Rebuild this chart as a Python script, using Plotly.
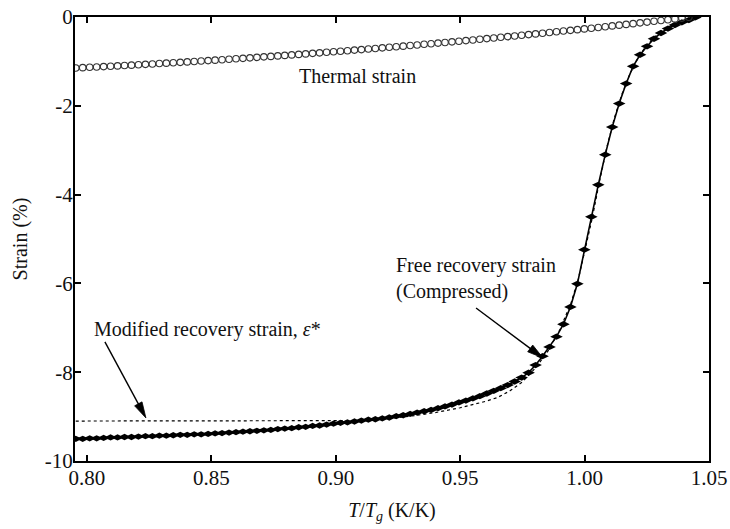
import math
import plotly.graph_objects as go

# Reduced temperature T/Tg sampled for the thermal-strain and recovery runs
ratio = [
    0.7955, 0.7983, 0.8011, 0.8039, 0.8067, 0.8095, 0.8123, 0.8151, 0.8179, 0.8207,
    0.8235, 0.8263, 0.8291, 0.8319, 0.8347, 0.8375, 0.8403, 0.8431, 0.8459, 0.8487,
    0.8515, 0.8543, 0.8571, 0.8599, 0.8627, 0.8655, 0.8683, 0.8711, 0.8739, 0.8767,
    0.8795, 0.8823, 0.8851, 0.8879, 0.8907, 0.8935, 0.8963, 0.8991, 0.9019, 0.9047,
    0.9075, 0.9103, 0.9131, 0.9159, 0.9187, 0.9215, 0.9243, 0.9271, 0.9299, 0.9327,
    0.9355, 0.9383, 0.9411, 0.9439, 0.9467, 0.9495, 0.9523, 0.9551, 0.9579, 0.9607,
    0.9635, 0.9663, 0.9691, 0.9719, 0.9747, 0.9775, 0.9803, 0.9831, 0.9859, 0.9887,
    0.9915, 0.9943, 0.9971, 0.9999, 1.0027, 1.0055, 1.0083, 1.0111, 1.0139, 1.0167,
    1.0195, 1.0223, 1.0251, 1.0279, 1.0307, 1.0335, 1.0363, 1.0391, 1.0419,
]

# Thermal strain (%)
thermal = [
    -1.149, -1.141, -1.133, -1.125, -1.117, -1.109, -1.101, -1.092, -1.084, -1.075,
    -1.066, -1.057, -1.048, -1.039, -1.030, -1.021, -1.011, -1.001, -0.992, -0.982,
    -0.972, -0.962, -0.951, -0.941, -0.931, -0.920, -0.909, -0.898, -0.887, -0.876,
    -0.865, -0.854, -0.842, -0.831, -0.819, -0.807, -0.795, -0.783, -0.771, -0.759,
    -0.746, -0.734, -0.721, -0.708, -0.695, -0.682, -0.669, -0.656, -0.643, -0.629,
    -0.615, -0.602, -0.588, -0.574, -0.560, -0.545, -0.531, -0.517, -0.502, -0.487,
    -0.472, -0.457, -0.442, -0.427, -0.412, -0.396, -0.381, -0.365, -0.349, -0.333,
    -0.317, -0.301, -0.285, -0.268, -0.252, -0.235, -0.218, -0.201, -0.184, -0.167,
    -0.150, -0.132, -0.115, -0.097, -0.079, -0.061, -0.043, -0.025, -0.007,
]

# Free recovery strain of the compressed specimen (%)
free_recovery = [
    -9.50, -9.50, -9.49, -9.49, -9.48, -9.47, -9.47, -9.46, -9.46, -9.45,
    -9.44, -9.44, -9.43, -9.43, -9.42, -9.41, -9.41, -9.40, -9.40, -9.39,
    -9.38, -9.37, -9.36, -9.35, -9.34, -9.33, -9.32, -9.31, -9.30, -9.28,
    -9.27, -9.26, -9.24, -9.23, -9.21, -9.20, -9.18, -9.16, -9.14, -9.13,
    -9.11, -9.09, -9.07, -9.06, -9.04, -9.02, -8.99, -8.97, -8.94, -8.91,
    -8.88, -8.85, -8.81, -8.77, -8.73, -8.68, -8.64, -8.59, -8.54, -8.48,
    -8.42, -8.36, -8.29, -8.21, -8.12, -8.01, -7.84, -7.64, -7.43, -7.20,
    -6.92, -6.53, -6.01, -5.24, -4.50, -3.78, -3.10, -2.48, -1.95, -1.50,
    -1.11, -0.85, -0.66, -0.49, -0.36, -0.26, -0.18, -0.12, -0.07,
]
free_ratio_end = [1.0445]
free_recovery_end = [-0.01]

# Modified recovery strain, eps* (%)
modified_ratio = [
    0.7955, 0.85, 0.90, 0.91, 0.92, 0.93, 0.94, 0.95, 0.96, 0.965,
    0.97, 0.975, 0.98, 0.985, 0.99, 0.9945, 0.9975, 1.000, 1.003, 1.006,
    1.009, 1.012, 1.015, 1.018, 1.021, 1.024, 1.027, 1.030, 1.034, 1.038,
    1.042, 1.045,
]
modified = [
    -9.10, -9.10, -9.10, -9.09, -9.05, -8.99, -8.91, -8.80, -8.66, -8.57,
    -8.42, -8.22, -7.92, -7.55, -7.05, -6.45, -5.90, -5.30, -4.55, -3.70,
    -2.92, -2.27, -1.74, -1.31, -0.97, -0.71, -0.51, -0.36, -0.22, -0.12,
    -0.05, 0.0,
]

x_ticks = [0.80, 0.85, 0.90, 0.95, 1.00, 1.05]
x_ticktext = ["0.80", "0.85", "0.90", "0.95", "1.00", "1.05"]
y_ticks = [0, -2, -4, -6, -8, -10]
y_ticktext = ["0", "-2", "-4", "-6", "-8", "-10"]

FONT = "Liberation Serif"
INK = "#111111"

# Figure geometry
WIDTH, HEIGHT = 730, 529
M_L, M_R, M_T, M_B = 75, 21, 17, 68
X_RANGE = [0.7952, 1.05]
Y_RANGE = [-10, 0]
PLOT_W = WIDTH - M_L - M_R
PLOT_H = HEIGHT - M_T - M_B

fig = go.Figure()

fig.add_trace(go.Scatter(
    x=modified_ratio, y=modified, mode="lines",
    line=dict(color="black", width=1.2, dash="dot"),
    showlegend=False, hoverinfo="skip",
))

fig.add_trace(go.Scatter(
    x=ratio + free_ratio_end, y=free_recovery + free_recovery_end,
    mode="lines+markers",
    line=dict(color="black", width=1.6),
    marker=dict(symbol="diamond-wide", size=9, color="black",
                line=dict(width=0)),
    showlegend=False, hoverinfo="skip",
))

fig.add_trace(go.Scatter(
    x=ratio, y=thermal, mode="markers",
    marker=dict(symbol="circle-open", size=6.5, color="#333333",
                line=dict(width=1.1, color="#333333")),
    showlegend=False, hoverinfo="skip",
))

axis_common = dict(
    showgrid=False, zeroline=False, automargin=False,
    showline=True, linecolor="black", linewidth=2,
    mirror="allticks", ticks="inside", ticklen=6, tickwidth=1.6,
    tickcolor="black",
    tickfont=dict(family=FONT, size=21, color=INK),
)

fig.update_xaxes(
    range=X_RANGE, tickvals=x_ticks, ticktext=x_ticktext,
    ticklabelstandoff=-3,
    title=dict(text="<i>T</i>/<i>T</i><sub><i>g</i></sub> (K/K)",
               font=dict(family=FONT, size=20, color=INK), standoff=14),
    **axis_common,
)
fig.update_yaxes(
    range=Y_RANGE, tickvals=y_ticks, ticktext=y_ticktext,
    ticklabelstandoff=-4,
    title=dict(text="Strain (%)",
               font=dict(family=FONT, size=20, color=INK), standoff=12),
    **axis_common,
)

text_font = dict(family=FONT, size=20, color=INK)

fig.add_annotation(x=0.8844, y=-1.33, xref="x", yref="y",
                   text="Thermal strain", showarrow=False,
                   xanchor="left", yanchor="middle", font=text_font)
fig.add_annotation(x=0.9234, y=-5.88, xref="x", yref="y",
                   text="Free recovery strain<br>(Compressed)",
                   showarrow=False, align="left",
                   xanchor="left", yanchor="middle", font=text_font)
fig.add_annotation(x=0.802, y=-7.03, xref="x", yref="y",
                   text="Modified recovery strain, <i>ε</i>*",
                   showarrow=False, xanchor="left", yanchor="middle",
                   font=text_font)


# Pointer arrows drawn as shapes: a shaft plus a filled head
def to_px(xv, yv):
    px = M_L + (xv - X_RANGE[0]) / (X_RANGE[1] - X_RANGE[0]) * PLOT_W
    py = M_T + (Y_RANGE[1] - yv) / (Y_RANGE[1] - Y_RANGE[0]) * PLOT_H
    return px, py


def to_data(px, py):
    xv = X_RANGE[0] + (px - M_L) / PLOT_W * (X_RANGE[1] - X_RANGE[0])
    yv = Y_RANGE[1] - (py - M_T) / PLOT_H * (Y_RANGE[1] - Y_RANGE[0])
    return xv, yv


def add_pointer(tip_x, tip_y, dx_px, dy_px, head_len=16, head_half=4.2):
    tx, ty = to_px(tip_x, tip_y)
    sx, sy = tx + dx_px, ty + dy_px
    length = math.hypot(tx - sx, ty - sy)
    ux, uy = (tx - sx) / length, (ty - sy) / length
    bx, by = tx - ux * head_len, ty - uy * head_len
    nx, ny = -uy, ux
    p_tail = to_data(sx, sy)
    p_base = to_data(bx + ux * 2, by + uy * 2)
    fig.add_shape(type="line", xref="x", yref="y",
                  x0=p_tail[0], y0=p_tail[1], x1=p_base[0], y1=p_base[1],
                  line=dict(color="black", width=1.4))
    corners = [to_data(tx, ty),
               to_data(bx + nx * head_half, by + ny * head_half),
               to_data(bx - nx * head_half, by - ny * head_half)]
    path = "M {:.6f},{:.6f} L {:.6f},{:.6f} L {:.6f},{:.6f} Z".format(
        corners[0][0], corners[0][1], corners[1][0], corners[1][1],
        corners[2][0], corners[2][1])
    fig.add_shape(type="path", xref="x", yref="y", path=path,
                  fillcolor="black", line=dict(color="black", width=0.8))


add_pointer(0.9833, -7.68, -67, -50)
add_pointer(0.8237, -9.03, -41, -76)

fig.update_layout(
    width=WIDTH, height=HEIGHT,
    margin=dict(l=M_L, r=M_R, t=M_T, b=M_B),
    paper_bgcolor="white", plot_bgcolor="white",
    font=dict(family=FONT, color=INK),
)

fig.write_html("out.html")
